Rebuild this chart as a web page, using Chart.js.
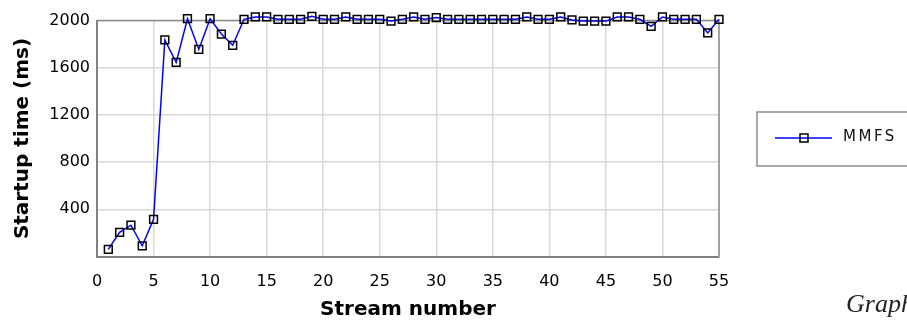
<!DOCTYPE html>
<html>
<head>
<meta charset="utf-8">
<script src="https://cdn.jsdelivr.net/npm/chart.js@4/dist/chart.umd.min.js"></script>
<style>
  html, body { margin: 0; padding: 0; background: #fff; overflow: hidden; }
  #wrap { position: relative; width: 907px; height: 326px; overflow: hidden; }
  #caption {
    position: absolute; left: 846px; top: 289px; white-space: nowrap;
    font: italic 26px "Liberation Serif", "Times New Roman", serif; color: #222;
  }
</style>
</head>
<body>
<div id="wrap">
  <canvas id="startup" width="907" height="326"></canvas>
  <div id="caption">Graph</div>
</div>
<script>
// stream numbers 1..55 and their startup times (ms)
const streams = [
  1, 2, 3, 4, 5, 6, 7, 8, 9, 10, 11, 12, 13, 14, 15, 16, 17, 18, 19, 20,
  21, 22, 23, 24, 25, 26, 27, 28, 29, 30, 31, 32, 33, 34, 35, 36, 37, 38, 39, 40,
  41, 42, 43, 44, 45, 46, 47, 48, 49, 50, 51, 52, 53, 54, 55
];
const startupMs = [
  60, 205, 265, 90, 315, 1835, 1645, 2015, 1755, 2015, 1885, 1790, 2010, 2030, 2030, 2010, 2010, 2010, 2035, 2010,
  2010, 2030, 2010, 2010, 2010, 1995, 2010, 2030, 2010, 2025, 2010, 2010, 2010, 2010, 2010, 2010, 2010, 2030, 2010, 2010,
  2030, 2005, 1995, 1995, 1995, 2030, 2030, 2010, 1950, 2030, 2010, 2010, 2010, 1895, 2010
];
const seriesName = 'MMFS';
const xTitle = 'Stream number';
const yTitle = 'Startup time (ms)';

const points = streams.map((s, i) => ({ x: s, y: startupMs[i] }));

// grey frame round the plot and a boxed legend on the right
const frameAndLegend = {
  id: 'frameAndLegend',
  beforeDatasetsDraw(chart) {
    const { ctx, chartArea: a } = chart;
    ctx.save();
    ctx.strokeStyle = '#8c8c8c';
    ctx.lineWidth = 1.5;
    ctx.beginPath();
    ctx.moveTo(a.left, a.top);
    ctx.lineTo(a.right, a.top);
    ctx.lineTo(a.right, a.bottom);
    ctx.stroke();
    ctx.restore();
  },
  afterDraw(chart) {
    const ctx = chart.ctx;
    ctx.save();
    ctx.strokeStyle = '#8c8c8c';
    ctx.lineWidth = 1.5;
    ctx.strokeRect(757, 112, 170, 54);
    ctx.strokeStyle = '#0000ff';
    ctx.lineWidth = 1.5;
    ctx.beginPath();
    ctx.moveTo(775, 138);
    ctx.lineTo(832, 138);
    ctx.stroke();
    ctx.strokeStyle = '#000';
    ctx.strokeRect(800, 134, 8, 8);
    ctx.fillStyle = '#111';
    ctx.font = '15px "DejaVu Sans"';
    ctx.letterSpacing = '2.5px';
    ctx.textBaseline = 'middle';
    ctx.fillText(seriesName, 843, 137);
    ctx.restore();
  }
};

new Chart(document.getElementById('startup'), {
  type: 'line',
  data: {
    datasets: [{
      label: seriesName,
      data: points,
      borderColor: '#0000ff',
      borderWidth: 1.5,
      tension: 0,
      fill: false,
      clip: false,
      pointStyle: 'rect',
      pointRadius: 5.5,
      pointBorderWidth: 1.5,
      pointBorderColor: '#000',
      pointBackgroundColor: 'rgba(0,0,0,0)'
    }]
  },
  options: {
    responsive: false,
    animation: false,
    devicePixelRatio: 1,
    layout: { padding: { left: 0, right: 188, top: 20.5, bottom: 0 } },
    plugins: { legend: { display: false }, tooltip: { enabled: false } },
    scales: {
      x: {
        type: 'linear',
        min: 0,
        max: 55,
        afterFit(scale) { scale.height = 69.5; },
        ticks: { stepSize: 5, padding: 16, color: '#000', font: { family: 'DejaVu Sans', size: 16 } },
        grid: { color: '#d8d8d8', lineWidth: 1.5, drawTicks: false },
        border: { color: '#808080', width: 2 },
        title: {
          display: true, text: xTitle, color: '#000',
          font: { family: 'DejaVu Sans', size: 20, weight: 'bold' },
          padding: { top: 0, bottom: 4 }
        }
      },
      y: {
        min: 0,
        max: 2000,
        afterFit(scale) { scale.width = 97; },
        ticks: {
          stepSize: 400, padding: 7, color: '#000',
          font: { family: 'DejaVu Sans', size: 16 },
          callback: v => (v === 0 ? '' : v)
        },
        grid: { color: '#d8d8d8', lineWidth: 1.5, drawTicks: false },
        border: { color: '#808080', width: 2 },
        title: {
          display: true, text: yTitle, color: '#000',
          font: { family: 'DejaVu Sans', size: 20, weight: 'bold' },
          padding: { top: 10.5, bottom: 0 }
        }
      }
    }
  },
  plugins: [frameAndLegend]
});
</script>
</body>
</html>
